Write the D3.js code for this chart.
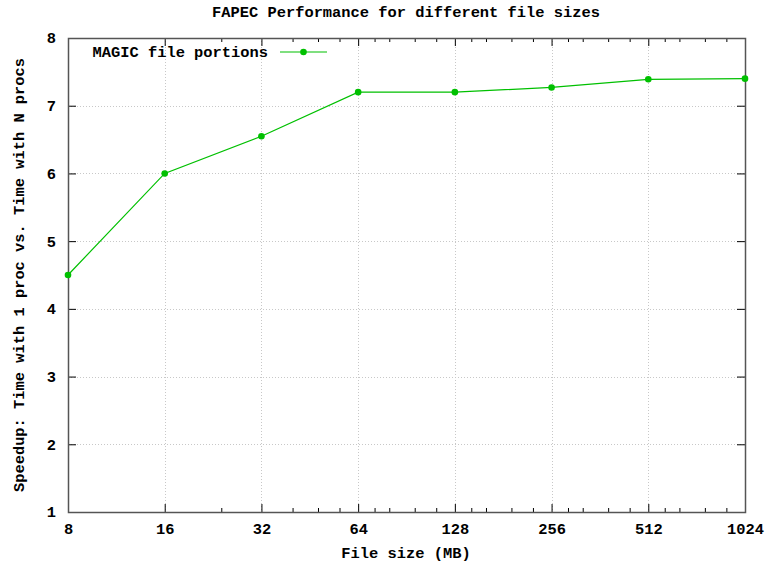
<!DOCTYPE html>
<html>
<head>
<meta charset="utf-8">
<script src="https://cdn.jsdelivr.net/npm/d3@7.9.0/dist/d3.min.js"></script>
<style>
  html, body { margin: 0; padding: 0; background: #fff; }
  svg text { font-family: "Liberation Mono", "DejaVu Sans Mono", monospace; font-weight: bold; font-size: 15.4px; fill: #000; }
</style>
</head>
<body>
<svg id="chart" width="768" height="564"></svg>
<script>
// File sizes (MB) and measured speedup
const fileSizes = [8, 16, 32, 64, 128, 256, 512, 1024];
const speedups = [4.5, 6.0, 6.55, 7.2, 7.2, 7.27, 7.39, 7.40];

const xMajorTicks = [8, 16, 32, 64, 128, 256, 512, 1024];
const xMinorTicks = [24, 40, 48, 56, 72, 80, 96, 112, 144, 160, 192, 224, 288, 320, 384, 448, 576, 640, 768, 896];
const yTicks = [1, 2, 3, 4, 5, 6, 7, 8];

const titleText = 'FAPEC Performance for different file sizes';
const xLabel = 'File size (MB)';
const yLabel = 'Speedup: Time with 1 proc vs. Time with N procs';
const seriesName = 'MAGIC file portions';

const width = 768, height = 564;
const margin = { top: 38, right: 23, bottom: 52, left: 68 };
const plot = {
  left: margin.left,
  right: width - margin.right,
  top: margin.top,
  bottom: height - margin.bottom
};

const svg = d3.select('#chart');
const green = '#00c000';

const x = d3.scaleLog().base(2).domain([8, 1024]).range([plot.left, plot.right]);
const y = d3.scaleLinear().domain([1, 8]).range([plot.bottom, plot.top]);

// Grid (dotted)
const grid = svg.append('g').attr('class', 'grid')
  .attr('stroke', '#c8c8c8').attr('stroke-width', 1).attr('stroke-dasharray', '1,2');
grid.selectAll('line.gx').data(xMajorTicks.slice(1, -1)).join('line')
  .attr('x1', d => Math.round(x(d)) + 0.5).attr('x2', d => Math.round(x(d)) + 0.5)
  .attr('y1', plot.top).attr('y2', plot.bottom);
grid.selectAll('line.gy').data(yTicks.slice(1, -1)).join('line')
  .attr('y1', d => Math.round(y(d)) + 0.5).attr('y2', d => Math.round(y(d)) + 0.5)
  .attr('x1', plot.left).attr('x2', plot.right);

// Axes: ticks pointing inward, mirrored on opposite sides
const fmt = d => String(d);
svg.append('g')
  .attr('transform', `translate(0, ${plot.bottom})`)
  .call(d3.axisBottom(x).tickValues(xMajorTicks).tickFormat(fmt).tickSizeInner(-8).tickSizeOuter(0).tickPadding(11))
  .call(g => g.select('.domain').remove());
svg.append('g')
  .attr('transform', `translate(0, ${plot.bottom})`)
  .call(d3.axisBottom(x).tickValues(xMinorTicks).tickFormat('').tickSizeInner(-4).tickSizeOuter(0))
  .call(g => g.select('.domain').remove());
svg.append('g')
  .attr('transform', `translate(0, ${plot.top})`)
  .call(d3.axisTop(x).tickValues(xMajorTicks).tickFormat('').tickSizeInner(-8).tickSizeOuter(0))
  .call(g => g.select('.domain').remove());
svg.append('g')
  .attr('transform', `translate(0, ${plot.top})`)
  .call(d3.axisTop(x).tickValues(xMinorTicks).tickFormat('').tickSizeInner(-4).tickSizeOuter(0))
  .call(g => g.select('.domain').remove());
svg.append('g')
  .attr('transform', `translate(${plot.left}, 0)`)
  .call(d3.axisLeft(y).tickValues(yTicks).tickFormat(fmt).tickSizeInner(-8).tickSizeOuter(0).tickPadding(12))
  .call(g => g.select('.domain').remove());
svg.append('g')
  .attr('transform', `translate(${plot.right}, 0)`)
  .call(d3.axisRight(y).tickValues(yTicks).tickFormat('').tickSizeInner(-8).tickSizeOuter(0))
  .call(g => g.select('.domain').remove());

svg.selectAll('.tick line').attr('stroke', '#000');
svg.selectAll('.tick text')
  .style('font-family', '"Liberation Mono", monospace')
  .style('font-size', '15.4px').style('font-weight', 'bold').attr('fill', '#000');

// Border
svg.append('rect')
  .attr('x', plot.left + 0.5).attr('y', plot.top + 0.5)
  .attr('width', plot.right - plot.left).attr('height', plot.bottom - plot.top)
  .attr('fill', 'none').attr('stroke', '#555').attr('stroke-width', 1.5);

// Series
const data = fileSizes.map((s, i) => ({ size: s, speedup: speedups[i] }));
svg.append('path')
  .datum(data)
  .attr('fill', 'none').attr('stroke', green).attr('stroke-width', 1.2)
  .attr('d', d3.line().x(d => x(d.size)).y(d => y(d.speedup)));
svg.append('g').selectAll('circle').data(data).join('circle')
  .attr('cx', d => x(d.size)).attr('cy', d => y(d.speedup)).attr('r', 3.3)
  .attr('fill', green);

// Legend
const lg = svg.append('g');
lg.append('text').attr('x', 268).attr('y', 57).attr('text-anchor', 'end').text(seriesName);
lg.append('line').attr('x1', 280).attr('x2', 327).attr('y1', 52).attr('y2', 52)
  .attr('stroke', green).attr('stroke-width', 1.2);
lg.append('circle').attr('cx', 303.5).attr('cy', 52).attr('r', 3.3).attr('fill', green);

// Title and labels
svg.append('text').attr('x', 406).attr('y', 17).attr('text-anchor', 'middle').text(titleText);
svg.append('text').attr('x', 406).attr('y', 558).attr('text-anchor', 'middle').text(xLabel);
svg.append('text')
  .attr('transform', 'translate(24, 275) rotate(-90)')
  .attr('text-anchor', 'middle').text(yLabel);
</script>
</body>
</html>
